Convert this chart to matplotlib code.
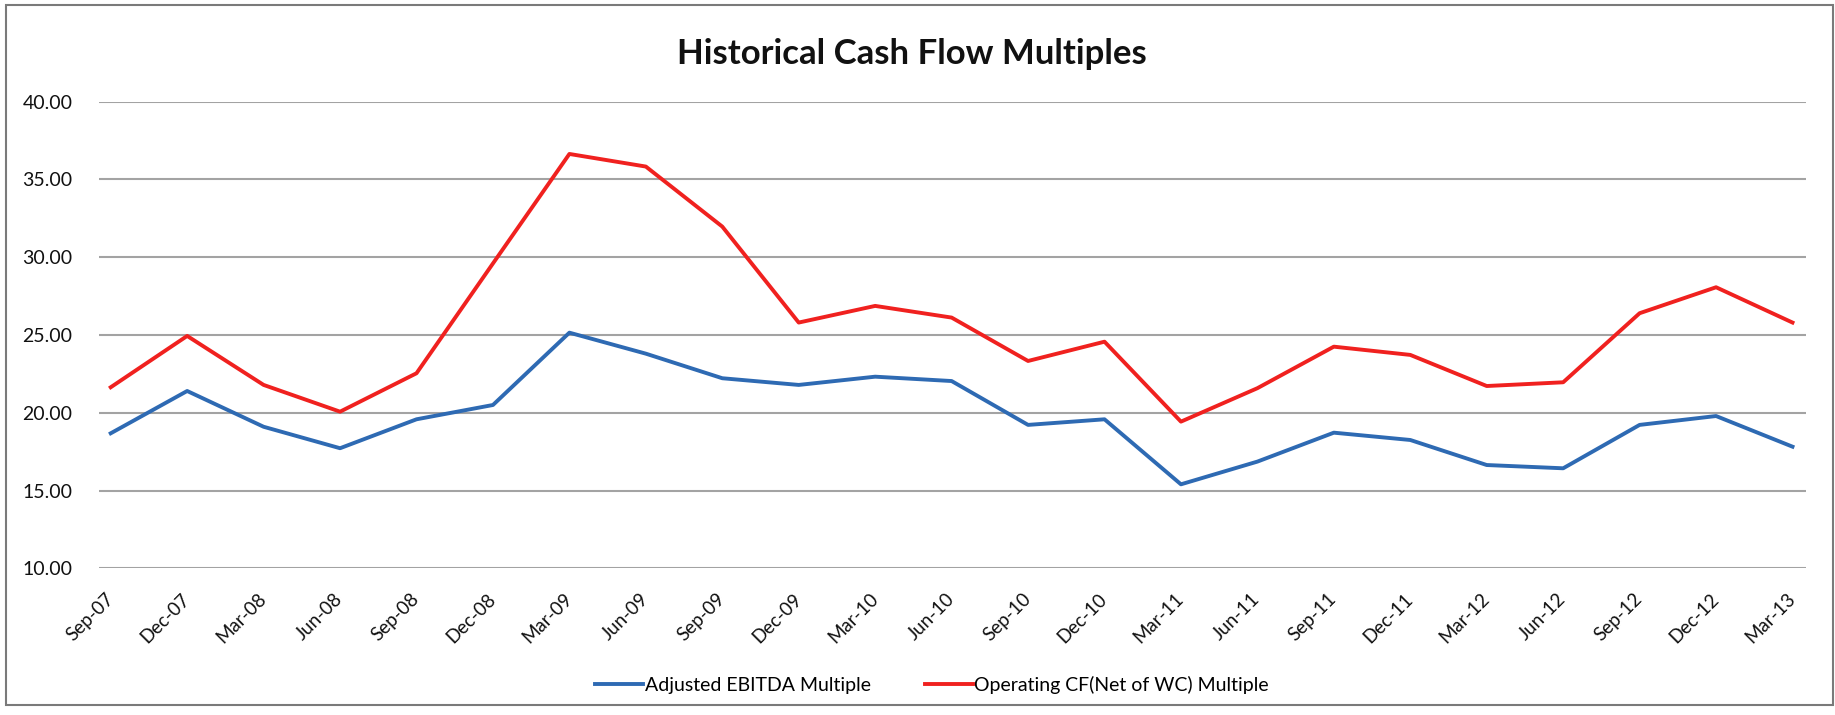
import matplotlib
matplotlib.use("Agg")
import matplotlib.pyplot as plt
from matplotlib.patches import Rectangle

periods = ["Sep-07", "Dec-07", "Mar-08", "Jun-08", "Sep-08", "Dec-08", "Mar-09", "Jun-09",
           "Sep-09", "Dec-09", "Mar-10", "Jun-10", "Sep-10", "Dec-10", "Mar-11", "Jun-11",
           "Sep-11", "Dec-11", "Mar-12", "Jun-12", "Sep-12", "Dec-12", "Mar-13"]
ebitda_multiple = [18.68, 21.40, 19.10, 17.72, 19.58, 20.50, 25.15, 23.80,
                   22.22, 21.79, 22.32, 22.04, 19.22, 19.58, 15.40, 16.86,
                   18.72, 18.25, 16.64, 16.43, 19.22, 19.79, 17.82]
opcf_multiple = [21.64, 24.94, 21.79, 20.07, 22.54, 29.60, 36.64, 35.83,
                 31.97, 25.80, 26.87, 26.12, 23.33, 24.57, 19.43, 21.58,
                 24.25, 23.72, 21.72, 21.96, 26.40, 28.07, 25.80]
yticks = [10, 15, 20, 25, 30, 35, 40]
series_names = ["Adjusted EBITDA Multiple", "Operating CF(Net of WC) Multiple"]
title = "Historical Cash Flow Multiples"

plt.rcParams['font.family'] = ['Lato', 'DejaVu Sans']

W, H = 1835, 715
fig = plt.figure(figsize=(W / 100, H / 100), dpi=100)
fig.patch.set_facecolor("white")

left, right = 98.8 / W, 1805.5 / W
bottom, top = 1 - 568.3 / H, 1 - 101.7 / H
ax = fig.add_axes([left, bottom, right - left, top - bottom])

x = list(range(len(periods)))
ax.plot(x, ebitda_multiple, color="#2e6ab3", lw=2.8, label=series_names[0])
ax.plot(x, opcf_multiple, color="#f0211f", lw=2.8, label=series_names[1])

ax.set_ylim(10, 40)
ax.set_xlim(-0.156, 22.17)
ax.tick_params(axis="x", length=0, pad=20)
ax.tick_params(axis="y", length=0, pad=19)
ax.set_yticks(yticks)
ax.set_yticklabels([f"{v:.2f}" for v in yticks], fontsize=14, color="#111111")
ax.set_xticks(x)
ax.set_xticklabels(periods, rotation=45, ha="right", va="center", rotation_mode="anchor",
                   fontsize=13.5, color="#111111")
for s in ax.spines.values():
    s.set_visible(False)
ax.yaxis.grid(True, color="#a3a3a3", lw=1.5)
ax.set_axisbelow(True)
ax.set_facecolor("white")

fig.text(0.497, 1 - 64 / H, title, ha="center", va="baseline", fontsize=25,
         fontweight="bold", color="#111111")

leg = fig.legend(loc="center", bbox_to_anchor=(0.508, 1 - 685 / H), ncol=2, frameon=False,
                 fontsize=14, handlelength=2.45, handletextpad=0.08, columnspacing=2.8)

fig.patches.append(Rectangle((6 / W, 1 - 705 / H), (1833 - 6) / W, (705 - 5) / H,
                             transform=fig.transFigure, fill=False, edgecolor="#7a7a7a", lw=1.5))

fig.savefig("out.png", dpi=100, facecolor="white")
